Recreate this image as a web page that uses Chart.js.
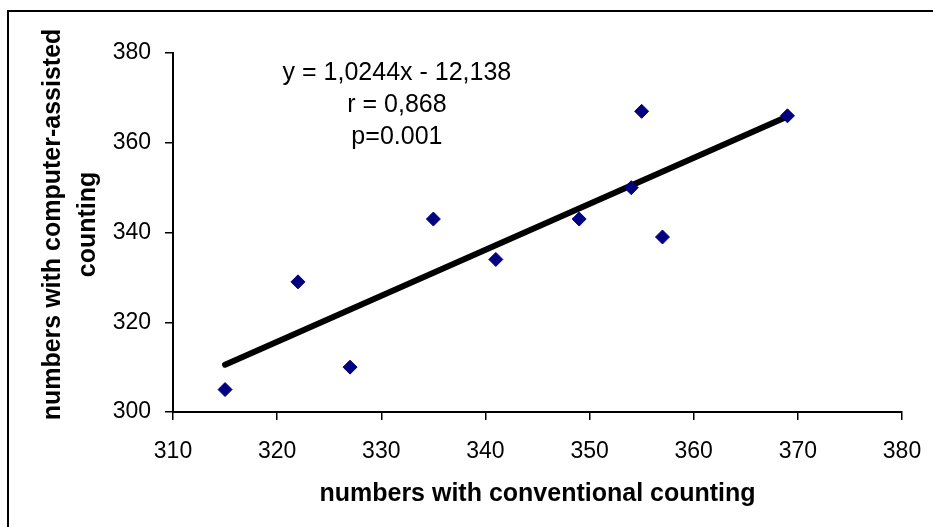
<!DOCTYPE html>
<html>
<head>
<meta charset="utf-8">
<script src="https://cdn.jsdelivr.net/npm/chart.js@4.4.1/dist/chart.umd.min.js"></script>
<style>
  html, body { margin: 0; padding: 0; background: #ffffff; }
  #wrap { position: relative; width: 933px; height: 527px; overflow: hidden; }
  #frame { position: absolute; left: 7px; top: 10px; width: 960px; height: 560px;
           border-left: 2px solid #000; border-top: 2px solid #000; }
  #c { position: absolute; left: 0; top: 0; }
</style>
</head>
<body>
<div id="wrap">
  <div id="frame"></div>
  <canvas id="c" width="933" height="527"></canvas>
</div>
<script>
// Data
const conventional = [315, 322, 327, 335, 341, 349, 354, 355, 357, 369];
const computerAssisted = [305, 329, 310, 343, 334, 343, 350, 367, 339, 366];
const slope = 1.0244;
const intercept = -12.138;
const equationLines = ['y = 1,0244x - 12,138', 'r = 0,868', 'p=0.001'];
const xTicks = [310, 320, 330, 340, 350, 360, 370, 380];
const yTicks = [300, 320, 340, 360, 380];
const xTitle = 'numbers with conventional counting';
const yTitle = ['numbers with computer-assisted', 'counting'];

const points = conventional.map((x, i) => ({ x: x, y: computerAssisted[i] }));
const xMinData = Math.min(...conventional);
const xMaxData = Math.max(...conventional);
const trend = [xMinData, xMaxData].map(x => ({ x: x, y: slope * x + intercept }));

const FONT = 'Arial, "Liberation Sans", sans-serif';

const textPlugin = {
  id: 'texts',
  afterDraw(chart) {
    const ctx = chart.ctx;
    const xs = chart.scales.x, ys = chart.scales.y;
    // regression equation annotation
    const cx = xs.getPixelForValue(331.5);
    const cy = ys.getPixelForValue(375.5);
    ctx.save();
    ctx.fillStyle = '#000';
    ctx.font = '25px ' + FONT;
    ctx.textAlign = 'center';
    ctx.textBaseline = 'middle';
    equationLines.forEach((t, i) => ctx.fillText(t, cx, cy + i * 32));
    ctx.restore();
    // y axis title (two lines, rotated)
    ctx.save();
    ctx.fillStyle = '#000';
    ctx.font = 'bold 25px ' + FONT;
    ctx.textAlign = 'center';
    ctx.textBaseline = 'middle';
    const midY = (ys.top + ys.bottom) / 2 - 8;
    ctx.translate(53, midY);
    ctx.rotate(-Math.PI / 2);
    yTitle.forEach((t, i) => ctx.fillText(t, 0, i * 35));
    ctx.restore();
  }
};

new Chart(document.getElementById('c'), {
  type: 'scatter',
  data: {
    datasets: [
      {
        label: 'trend',
        type: 'line',
        data: trend,
        borderColor: '#000000',
        borderWidth: 6,
        borderCapStyle: 'round',
        pointRadius: 0,
        fill: false,
        order: 2
      },
      {
        label: 'data',
        data: points,
        pointStyle: 'rectRot',
        pointRadius: 7,
        pointBackgroundColor: '#000080',
        pointBorderColor: '#000080',
        pointBorderWidth: 1,
        order: 1
      }
    ]
  },
  options: {
    responsive: false,
    animation: false,
    events: [],
    layout: { padding: { left: 0, top: 53, right: 31, bottom: 0 } },
    plugins: { legend: { display: false }, tooltip: { enabled: false } },
    scales: {
      x: {
        type: 'linear',
        min: 310, max: 380,
        afterBuildTicks: s => { s.ticks = xTicks.map(v => ({ value: v })); },
        afterFit: s => { s.height = 115; s.paddingLeft = 0; s.paddingRight = 0; },
        border: { display: true, color: '#000', width: 2 },
        grid: { drawOnChartArea: false, drawTicks: true, tickLength: 8, color: '#000', lineWidth: 1.5 },
        ticks: { color: '#000', font: { family: FONT, size: 23 }, padding: 18, maxRotation: 0 },
        title: { display: true, text: xTitle, color: '#000',
                 font: { family: FONT, size: 25, weight: 'bold' }, padding: { top: 0, bottom: 18 } }
      },
      y: {
        type: 'linear',
        min: 300, max: 380,
        afterBuildTicks: s => { s.ticks = yTicks.map(v => ({ value: v })); },
        afterFit: s => { s.width = 173; s.paddingTop = 0; s.paddingBottom = 0; },
        border: { display: true, color: '#000', width: 2 },
        grid: { drawOnChartArea: false, drawTicks: true, tickLength: 8, color: '#000', lineWidth: 1.5 },
        ticks: { color: '#000', font: { family: FONT, size: 23 }, padding: 14 },
        title: { display: false }
      }
    }
  },
  plugins: [textPlugin]
});
</script>
</body>
</html>
